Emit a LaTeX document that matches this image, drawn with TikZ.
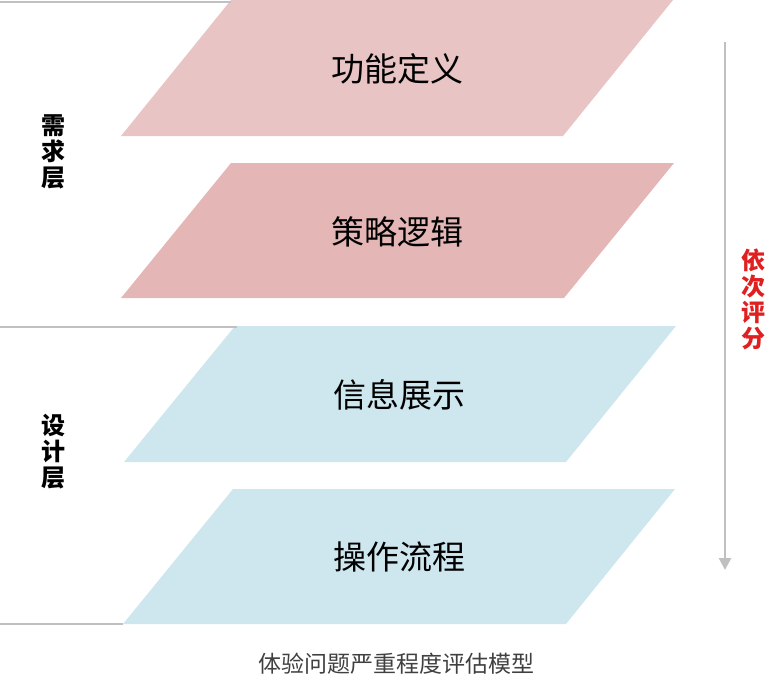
\documentclass[tikz,border=0pt]{standalone}
\usepackage{fontspec}
\setmainfont{Noto Sans CJK SC}
\usetikzlibrary{arrows.meta}
\definecolor{pinkA}{HTML}{E8C4C4}
\definecolor{pinkB}{HTML}{E4B7B6}
\definecolor{blueA}{HTML}{CEE7EE}
\definecolor{rule}{HTML}{C0C0C0}
\definecolor{redtxt}{HTML}{E02020}
\definecolor{captxt}{HTML}{404040}
\tikzset{
  layerlabel/.style={font=\fontsize{33}{35}\selectfont, text=black, inner sep=0pt},
  sidelabel/.style={font=\bfseries\fontsize{24}{26}\selectfont, align=center, inner sep=0pt, text=black},
  sepline/.style={draw=rule, line width=2pt},
  flowarrow/.style={draw=rule, line width=2.6pt, -{Triangle[width=12pt,length=12pt]}},
}
\begin{document}
\begin{tikzpicture}[x=1pt,y=-1pt]
\useasboundingbox (0,0) rectangle (784,691);
% parallelograms
\fill[pinkA] (121,136) -- (231,0) -- (673,0) -- (563,136) -- cycle;
\fill[pinkB] (121,298) -- (231,163) -- (674,163) -- (564,298) -- cycle;
\fill[blueA] (124,462) -- (235,326) -- (676,326) -- (566,462) -- cycle;
\fill[blueA] (123,624) -- (233,489) -- (675,489) -- (566,624) -- cycle;
% separator lines
\coordinate (l1a) at (0,2);   \coordinate (l1b) at (231,2);
\coordinate (l2a) at (0,327); \coordinate (l2b) at (237,327);
\coordinate (l3a) at (0,624); \coordinate (l3b) at (123,624);
\draw[sepline] (l1a) -- (l1b);
\draw[sepline] (l2a) -- (l2b);
\draw[sepline] (l3a) -- (l3b);
% layer texts
\node[layerlabel] (f1) at (397,69) {功能定义};
\node[layerlabel] (f2) at (397,232) {策略逻辑};
\node[layerlabel] (f3) at (399,395) {信息展示};
\node[layerlabel] (f4) at (399,557) {操作流程};
% side labels
\node[sidelabel] (req) at (53,152) {需\\求\\层};
\node[sidelabel] (des) at (53,452) {设\\计\\层};
% arrow
\coordinate (as) at (725,42);
\coordinate (ae) at (725,570);
\draw[flowarrow] (as) -- (ae);
\node[sidelabel, text=redtxt] (order) at (753,299) {依\\次\\评\\分};
% caption
\node[font=\fontsize{23}{25}\selectfont, text=captxt, inner sep=0pt] (cap) at (396,664) {体验问题严重程度评估模型};
\end{tikzpicture}
\end{document}
